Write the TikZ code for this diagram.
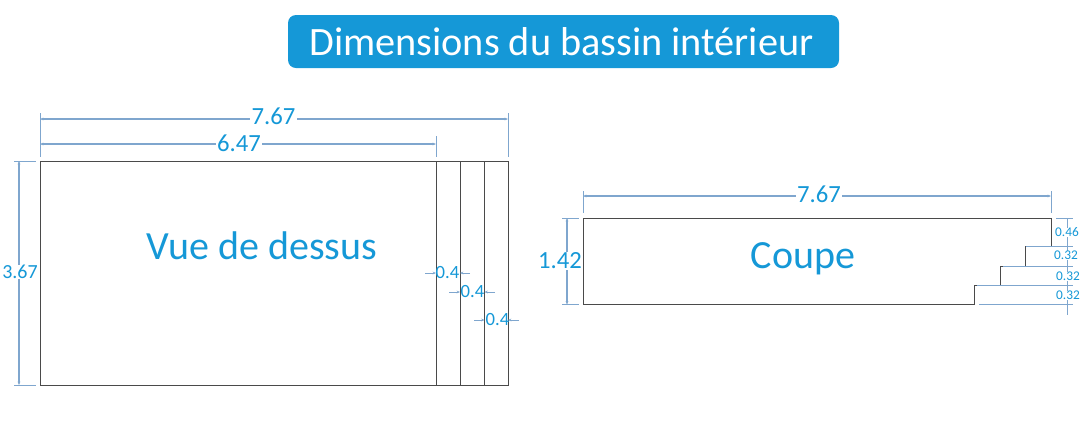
\documentclass[tikz,border=0pt]{standalone}
\usepackage{fontspec}
\setmainfont{Carlito}
\usetikzlibrary{arrows.meta}
\definecolor{bassinblue}{HTML}{1598D7}
\definecolor{dimblue}{HTML}{7FA6CE}
\definecolor{wallgray}{HTML}{4A4A4A}
\tikzset{
  wall/.style={draw=wallgray, line width=0.6pt},
  dimline/.style={draw=dimblue, line width=0.8pt, {Stealth[length=2.5pt,width=2pt]}-{Stealth[length=2.5pt,width=2pt]}},
  dimtick/.style={draw=dimblue, line width=0.7pt, -{Stealth[length=2.5pt,width=2pt]}},
  dimext/.style={draw=dimblue, line width=0.7pt},
  dimlabel/.style={text=bassinblue, fill=white, inner sep=1pt, font=\fontsize{18.5}{22}\selectfont},
  sidelabel/.style={text=bassinblue, fill=white, inner sep=0pt, font=\fontsize{15}{18}\selectfont},
  smalllabel/.style={text=bassinblue, fill=white, inner sep=0pt, font=\fontsize{10}{12}\selectfont},
  midlabel/.style={text=bassinblue, inner sep=0pt, font=\fontsize{14}{16}\selectfont},
  viewlabel/.style={text=bassinblue, inner sep=0pt, font=\fontsize{30}{34}\selectfont}
}

\begin{document}
\begin{tikzpicture}[x=0.75pt, y=-0.75pt]
    \useasboundingbox (0, 0) rectangle (1086, 426);
\node[fill=bassinblue, rounded corners=6pt, minimum width=413.25pt, minimum height=39.75pt] (titlebox) at (563.5, 41.5) {}; % title
\node[text=white, inner sep=0pt, font=\fontsize{30.2}{36}\selectfont] (titletext) at (561.5, 41.5) {Dimensions du bassin intérieur};

% top view
\coordinate (topA) at (40, 161);
\coordinate (topB) at (508, 385);
\draw[wall] (topA) rectangle (topB);
\foreach \name/\xpos in {stepa/436, stepb/460, stepc/484.5} {
  \coordinate (\name top) at (\xpos, 161);
  \coordinate (\name bot) at (\xpos, 385);
  \draw[wall] (\name top) -- (\name bot);
}
\node[viewlabel] (topname) at (262, 246) {Vue de dessus};

% top view, widths
\coordinate (extA1) at (40, 113);
\coordinate (extA2) at (40, 157);
\coordinate (extB1) at (508, 113);
\coordinate (extB2) at (508, 157);
\coordinate (extC1) at (436, 136);
\coordinate (extC2) at (436, 157);
\draw[dimext] (extA1) -- (extA2);
\draw[dimext] (extB1) -- (extB2);
\draw[dimext] (extC1) -- (extC2);
\coordinate (wideL) at (40, 119);
\coordinate (wideR) at (508, 119);
\coordinate (partL) at (40, 144);
\coordinate (partR) at (436, 144);
\draw[dimline] (wideL) -- (wideR);
\draw[dimline] (partL) -- (partR);
\node[dimlabel] (wide) at (273.5, 116) {7.67};
\node[dimlabel] (part) at (239, 143) {6.47};

% top view, height
\coordinate (extD1) at (14, 161);
\coordinate (extD2) at (36, 161);
\coordinate (extE1) at (14, 385);
\coordinate (extE2) at (36, 385);
\draw[dimext] (extD1) -- (extD2);
\draw[dimext] (extE1) -- (extE2);
\coordinate (highT) at (19, 161);
\coordinate (highB) at (19, 385);
\draw[dimline] (highT) -- (highB);
\node[sidelabel] (high) at (20, 272) {3.67};

% top view, steps
\foreach \name/\ya/\xa/\xb/\xc/\xd/\xm in {sa/273/425/436/460/470/447.5, sb/292/449/460/484.5/495/472.5, sc/320/474/484.5/508/519/497.5} {
  \coordinate (\name a) at (\xa, \ya);
  \coordinate (\name b) at (\xb, \ya);
  \coordinate (\name c) at (\xc, \ya);
  \coordinate (\name d) at (\xd, \ya);
  \draw[dimtick] (\name a) -- (\name b);
  \draw[dimtick] (\name d) -- (\name c);
  \node[midlabel] (\name) at (\xm, \ya) {0.4};
}

% section
\coordinate (cutA) at (583, 218);
\coordinate (cutB) at (1051, 218);
\coordinate (cutC) at (1051, 246);
\coordinate (cutD) at (1025.5, 246);
\coordinate (cutE) at (1025.5, 266);
\coordinate (cutF) at (1000, 266);
\coordinate (cutG) at (1000, 285);
\coordinate (cutH) at (974.5, 285);
\coordinate (cutI) at (974.5, 304.5);
\coordinate (cutJ) at (583, 304.5);
\draw[wall] (cutA) -- (cutB) -- (cutC) -- (cutD) -- (cutE) -- (cutF) -- (cutG) -- (cutH) -- (cutI) -- (cutJ) -- cycle;
\node[viewlabel] (cutname) at (803, 259) {Coupe};

% section, width
\coordinate (extF1) at (583, 191);
\coordinate (extF2) at (583, 213);
\coordinate (extG1) at (1051, 191);
\coordinate (extG2) at (1051, 213);
\draw[dimext] (extF1) -- (extF2);
\draw[dimext] (extG1) -- (extG2);
\coordinate (longL) at (583, 196);
\coordinate (longR) at (1051, 196);
\draw[dimline] (longL) -- (longR);
\node[dimlabel] (long) at (819, 194) {7.67};

% section, depth
\coordinate (extH1) at (562, 218);
\coordinate (extH2) at (579, 218);
\coordinate (extI1) at (562, 304.5);
\coordinate (extI2) at (579, 304.5);
\draw[dimext] (extH1) -- (extH2);
\draw[dimext] (extI1) -- (extI2);
\coordinate (deepT) at (567, 218);
\coordinate (deepB) at (567, 304.5);
\draw[dimline] (deepT) -- (deepB);
\node[dimlabel] (deep) at (560, 261) {1.42};

% section, steps
\foreach \name/\ya/\xa in {ra/218/1056, rb/246/1025.5, rc/266/1003, rd/285/977, re/304.5/979} {
  \coordinate (\name L) at (\xa, \ya);
  \coordinate (\name R) at (1073, \ya);
  \draw[dimext] (\name L) -- (\name R);
}
\coordinate (railT) at (1067.5, 218);
\coordinate (railB) at (1067.5, 315);
\draw[dimext] (railT) -- (railB);
\node[smalllabel] (rise) at (1067, 232.5) {0.46};
\node[smalllabel] (stepd) at (1066, 255.5) {0.32};
\node[smalllabel] (stepe) at (1068, 276.5) {0.32};
\node[smalllabel] (stepf) at (1068, 295.5) {0.32};

    \end{tikzpicture}
\end{document}
